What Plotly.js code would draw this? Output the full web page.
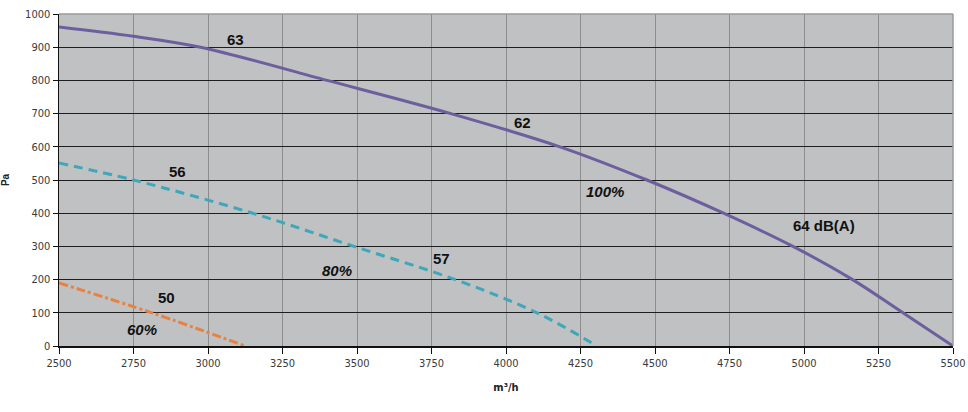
<!DOCTYPE html>
<html>
<head>
<meta charset="utf-8">
<script src="https://cdn.plot.ly/plotly-3.0.1.min.js"></script>
<style>html,body{margin:0;padding:0;background:#fff;}#chart{width:968px;height:412px;}</style>
</head>
<body>
<div id="chart"></div>
<script>
// Fan curves: airflow (m³/h) vs pressure (Pa), read where each curve crosses the grid lines
const flow100 = [2500, 2750, 2975, 3400, 3815, 4181, 4473, 4730, 4963, 5163, 5332, 5500];
const pa100   = [961, 933, 900, 800, 700, 600, 500, 400, 300, 200, 100, 0];

const flow80 = [2500, 2750, 3150, 3490, 3830, 4104, 4305];
const pa80   = [551, 500, 400, 300, 200, 100, 0];

const flow60 = [2500, 2812, 3125];
const pa60   = [190, 100, 0];

const xTicks = [2500, 2750, 3000, 3250, 3500, 3750, 4000, 4250, 4500, 4750, 5000, 5250, 5500];
const yTicks = [0, 100, 200, 300, 400, 500, 600, 700, 800, 900, 1000];

const labelText = ["63", "62", "100%", "64 dB(A)", "56", "80%", "57", "50", "60%"];
const labelX    = [3091, 4057, 4332, 5067, 2899, 3433, 3782, 2862, 2779];
const labelY    = [922, 672, 464, 364, 527, 226, 265, 145, 51];
const labelItalic = [false, false, true, false, false, true, false, false, true];

const traces = [
  {x: flow100, y: pa100, mode: 'lines', line: {color: '#6d5f9e', width: 3, shape: 'spline', smoothing: 1.0}, name: '100%'},
  {x: flow80, y: pa80, mode: 'lines', line: {color: '#3ea7ba', width: 3, dash: '9px,6px', shape: 'spline', smoothing: 1.0}, name: '80%'},
  {x: flow60, y: pa60, mode: 'lines', line: {color: '#e8823e', width: 3, dash: 'dashdot', shape: 'spline', smoothing: 1.0}, name: '60%'}
];

const annotations = labelText.map((t, i) => ({
  x: labelX[i], y: labelY[i], xref: 'x', yref: 'y',
  text: labelItalic[i] ? '<b><i>' + t + '</i></b>' : '<b>' + t + '</b>',
  showarrow: false,
  font: {family: 'Liberation Sans, Arial, sans-serif', size: 15, color: '#111'}
}));

const tickFont = {family: 'DejaVu Sans Condensed, Liberation Sans Narrow, sans-serif', size: 11, color: '#3a3a3a'};

const layout = {
  width: 968, height: 412,
  margin: {l: 59, r: 15, t: 14, b: 66},
  paper_bgcolor: '#ffffff',
  plot_bgcolor: '#bfc1c2',
  showlegend: false,
  xaxis: {
    range: [2500, 5500],
    tickvals: xTicks, ticktext: xTicks.map(String),
    showgrid: true, gridcolor: '#8c8c8c', gridwidth: 1,
    zeroline: false,
    showline: true, linecolor: '#111', linewidth: 1.5,
    ticks: 'outside', ticklen: 6, tickcolor: '#111', tickwidth: 1,
    tickfont: tickFont,
    title: {text: '<b>m³/h</b>', font: {family: 'DejaVu Sans Condensed, sans-serif', size: 11, color: '#222'}, standoff: 14}
  },
  yaxis: {
    range: [0, 1000],
    tickvals: yTicks, ticktext: yTicks.map(String),
    showgrid: true, gridcolor: '#1e1e1e', gridwidth: 1,
    zeroline: false,
    showline: true, linecolor: '#111', linewidth: 1.5,
    ticks: 'outside', ticklen: 5, tickcolor: '#111', tickwidth: 1,
    tickfont: tickFont,
    title: {text: '<b>Pa</b>', font: {family: 'Liberation Sans, Arial, sans-serif', size: 10, color: '#222'}, standoff: 18}
  },
  shapes: [
    {type: 'line', xref: 'paper', yref: 'paper', x0: 0, x1: 1, y0: 1, y1: 1, line: {color: '#9a9a9a', width: 1.5}, layer: 'above'},
    {type: 'line', xref: 'paper', yref: 'paper', x0: 1, x1: 1, y0: 0, y1: 1, line: {color: '#9a9a9a', width: 1.5}, layer: 'above'}
  ],
  annotations: annotations
};

Plotly.newPlot('chart', traces, layout, {displayModeBar: false, staticPlot: true});
</script>
</body>
</html>
